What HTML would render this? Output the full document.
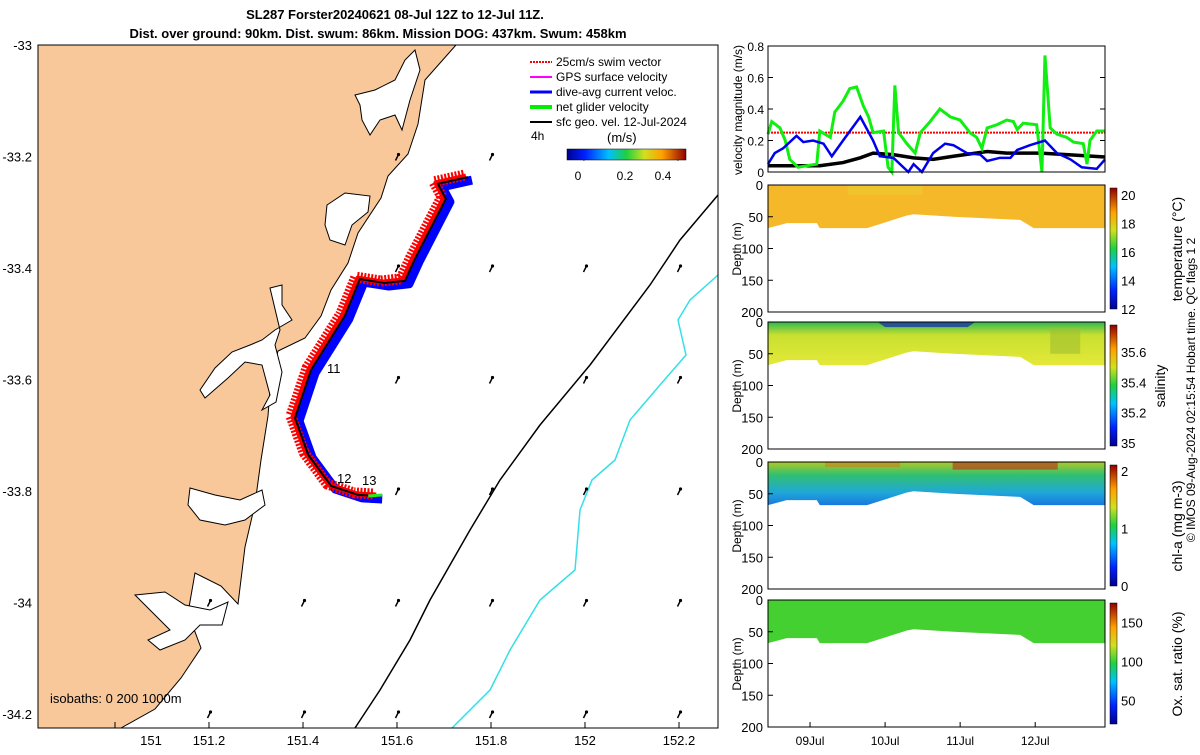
<!DOCTYPE html>
<html><head><meta charset="utf-8"><style>
body{margin:0;background:#fff;}
svg{font-family:"Liberation Sans",sans-serif;}
</style></head><body>
<svg id="fig" width="1200" height="750" viewBox="0 0 1200 750" xmlns="http://www.w3.org/2000/svg">
<defs>
<linearGradient id="jet" x1="0" y1="1" x2="0" y2="0">
<stop offset="0" stop-color="#00008f"/><stop offset="0.15" stop-color="#0020ff"/><stop offset="0.35" stop-color="#00c0ff"/><stop offset="0.5" stop-color="#20d040"/><stop offset="0.65" stop-color="#d0e020"/><stop offset="0.8" stop-color="#ffa000"/><stop offset="1" stop-color="#8f0000"/></linearGradient>
<linearGradient id="jeth" x1="0" y1="0" x2="1" y2="0">
<stop offset="0" stop-color="#00008f"/><stop offset="0.15" stop-color="#0020ff"/><stop offset="0.35" stop-color="#00c0ff"/><stop offset="0.5" stop-color="#20d040"/><stop offset="0.65" stop-color="#d0e020"/><stop offset="0.8" stop-color="#ffa000"/><stop offset="1" stop-color="#8f0000"/></linearGradient>
<linearGradient id="salg" x1="0" y1="0" x2="0" y2="1"><stop offset="0" stop-color="#30b850"/><stop offset="0.3" stop-color="#c8e030"/><stop offset="1" stop-color="#e4e838"/></linearGradient>
<linearGradient id="chlg" x1="0" y1="0" x2="0" y2="1"><stop offset="0" stop-color="#b0c828"/><stop offset="0.3" stop-color="#30c070"/><stop offset="0.7" stop-color="#20a8d8"/><stop offset="1" stop-color="#1878e0"/></linearGradient>
</defs>
<text x="395" y="19" font-size="13" font-weight="bold" text-anchor="middle">SL287 Forster20240621 08-Jul 12Z to 12-Jul 11Z.</text>
<text x="378" y="38" font-size="13" font-weight="bold" text-anchor="middle">Dist. over ground: 90km. Dist. swum: 86km. Mission DOG: 437km. Swum: 458km</text>

<g>
<rect x="38" y="45" width="680" height="683" fill="#fff"/>
<path fill="#f9c89a" stroke="#000" stroke-width="1" d="M38,45 L456,45 L425,80 L418,124 L408,154 L388,176 L381,198 L358,233 L348,263 L331,290 L321,316 L305,338 L278,351 L271,377 L268,416 L261,460 L255,504 L245,547 L238,604 L221,586 L195,573 L188,613 L201,648 L181,678 L155,709 L121,728 L38,728 Z"/>
<g fill="#fff" stroke="#000" stroke-width="1">
<path d="M327,205 L345,193 L370,196 L368,212 L352,225 L345,245 L330,240 L325,225 Z"/>
<path d="M355,95 L375,90 L395,80 L405,60 L415,50 L420,70 L410,100 L402,130 L395,115 L380,120 L370,135 L362,120 L360,105 Z"/>
<path d="M270,288 L282,285 L282,305 L292,320 L275,330 L262,340 L250,345 L232,352 L215,368 L200,390 L205,398 L228,378 L245,362 L262,365 L270,395 L262,410 L276,402 L282,372 L275,345 L280,330 Z"/>
<path d="M190,488 L215,495 L240,500 L262,490 L265,505 L245,520 L225,525 L200,520 L188,505 Z"/>
<path d="M135,595 L165,592 L185,605 L210,610 L228,602 L222,625 L200,625 L185,640 L160,650 L148,640 L170,630 L150,610 Z"/>
</g>
<polyline fill="none" stroke="#000" stroke-width="1.5" points="718,195 680,240 650,285 590,365 540,425 500,480 470,530 430,600 410,640 380,690 355,728"/>
<polyline fill="none" stroke="#33e0e8" stroke-width="1.5" points="718,275 690,300 678,320 686,355 660,385 630,420 615,460 592,480 580,510 575,570 540,600 510,650 490,690 452,728"/>
<g id="track"></g>
<g id="arrows"></g>
<text x="327" y="373" font-size="13">11</text>
<text x="337" y="483" font-size="13">12</text>
<text x="362" y="485" font-size="13">13</text>
<rect x="38" y="45" width="680" height="683" fill="none" stroke="#000"/>
<g id="mapticks" font-size="13"></g>
<text x="50" y="703" font-size="13">isobaths: 0   200  1000m</text>
<g font-size="12">
<line x1="530" y1="62" x2="552" y2="62" stroke="#f00" stroke-width="2" stroke-dasharray="2 1"/><text x="556" y="66">25cm/s swim vector</text>
<line x1="530" y1="77" x2="552" y2="77" stroke="#f0f" stroke-width="2"/><text x="556" y="81">GPS surface velocity</text>
<line x1="530" y1="92" x2="552" y2="92" stroke="#00f" stroke-width="3"/><text x="556" y="96">dive-avg current veloc.</text>
<line x1="530" y1="107" x2="552" y2="107" stroke="#0e0" stroke-width="4"/><text x="556" y="111">net glider velocity</text>
<line x1="530" y1="122" x2="552" y2="122" stroke="#000" stroke-width="2"/><text x="556" y="126">sfc geo. vel. 12-Jul-2024</text>
<text x="531" y="140">4h</text><text x="607" y="142" font-size="13">(m/s)</text>
<rect x="567" y="149" width="119" height="11" fill="url(#jeth)" stroke="#000" stroke-width="0.5"/>
<text x="578" y="180" text-anchor="middle">0</text><text x="625" y="180" text-anchor="middle">0.2</text><text x="663" y="180" text-anchor="middle">0.4</text>
</g>
</g>

<g id="right"></g>
<text transform="translate(1195,390) rotate(-90)" font-size="12" text-anchor="middle">© IMOS 09-Aug-2024 02:15:54 Hobart time. QC flags 1  2</text>

<script>
const NS="http://www.w3.org/2000/svg";
function mk(t,a,p){const e=document.createElementNS(NS,t);for(const k in a)e.setAttribute(k,a[k]);(p||document.getElementById('fig')).appendChild(e);return e;}
// ---- data ----
const greenT=[8.44,8.49,8.6,8.67,8.73,8.84,8.96,9.09,9.13,9.27,9.33,9.44,9.53,9.62,9.71,9.78,9.84,9.98,10.04,10.09,10.13,10.18,10.29,10.40,10.47,10.6,10.73,10.87,11.0,11.13,11.22,11.29,11.36,11.49,11.62,11.71,11.76,11.84,12.02,12.09,12.13,12.2,12.29,12.42,12.51,12.64,12.69,12.73,12.82,12.93];
const greenV=[0.24,0.32,0.28,0.2,0.08,0.03,0.04,0.05,0.26,0.22,0.38,0.45,0.53,0.54,0.42,0.35,0.25,0.26,0.03,0.0,0.55,0.25,0.18,0.12,0.25,0.32,0.4,0.35,0.33,0.25,0.22,0.15,0.28,0.3,0.33,0.32,0.27,0.31,0.3,0.0,0.74,0.28,0.24,0.22,0.19,0.18,0.05,0.2,0.26,0.26];
const blueT=[8.44,8.53,8.64,8.82,8.91,9.04,9.18,9.29,9.44,9.67,9.84,9.93,10.11,10.31,10.38,10.49,10.64,10.8,10.91,11.09,11.27,11.36,11.53,11.67,11.76,11.93,12.13,12.29,12.47,12.62,12.82,12.93];
const blueV=[0.05,0.12,0.15,0.23,0.19,0.2,0.18,0.1,0.2,0.35,0.2,0.1,0.09,0.0,0.05,0.0,0.12,0.18,0.17,0.12,0.11,0.07,0.09,0.09,0.14,0.17,0.2,0.12,0.08,0.03,0.02,0.08];
const blackT=[8.44,9.13,9.44,9.67,9.84,10.11,10.38,10.64,10.91,11.36,11.62,11.8,12.07,12.42,12.93];
const blackV=[0.04,0.04,0.06,0.09,0.12,0.11,0.09,0.08,0.1,0.13,0.12,0.12,0.12,0.11,0.095];
const swimV=0.25;
const bottomT=[8.44,8.69,9.09,9.13,9.76,10.29,10.38,10.91,11.8,11.98,12.93];
const bottomD=[68,60,60,68,68,48,46,50,55,68,68];
const dayTicks=[9,10,11,12];
const dayLabels=["09Jul","10Jul","11Jul","12Jul"];
const trackLon=[151.751,151.687,151.704,151.638,151.617,151.574,151.521,151.489,151.417,151.383,151.411,151.460,151.517,151.560];
const trackLat=[-33.237,-33.249,-33.276,-33.384,-33.423,-33.427,-33.420,-33.486,-33.583,-33.669,-33.735,-33.791,-33.807,-33.809];
const lonTicks=[151,151.2,151.4,151.6,151.8,152,152.2];
const latTicks=[-33,-33.2,-33.4,-33.6,-33.8,-34,-34.2];
// ---- map axes ----
const lx=l=>115+(l-151)*470, ly=a=>45+(-33-a)*557.5;
const mt=document.getElementById('mapticks');
lonTicks.forEach(l=>{const t=mk('text',{x:lx(l)+(l===151?36:0),y:745,'text-anchor':'middle'},mt);t.textContent=String(l);


mk('line',{x1:lx(l),y1:728,x2:lx(l),y2:722,stroke:'#000'},mt);});
latTicks.forEach(a=>{const t=mk('text',{x:32,y:ly(a)+5,'text-anchor':'end'},mt);t.textContent=String(a);

});
const tr=document.getElementById('track');
const pts=trackLon.map((l,i)=>[lx(l),ly(trackLat[i])]);
const ps=(ox,oy)=>pts.map(p=>(p[0]+ox)+','+(p[1]+oy)).join(' ');
mk('polyline',{points:ps(4,3),fill:'none',stroke:'#00f','stroke-width':9,'stroke-linejoin':'round'},tr);
mk('polyline',{points:ps(-4,-2),fill:'none',stroke:'#f00','stroke-width':11,'stroke-linejoin':'round','stroke-dasharray':'2 1.5'},tr);
mk('polyline',{points:ps(-2,-1),fill:'none',stroke:'#f00','stroke-width':5,'stroke-linejoin':'round'},tr);
mk('polyline',{points:ps(0,0),fill:'none',stroke:'#000','stroke-width':2},tr);
const last=pts[pts.length-1];
mk('line',{x1:last[0]-10,y1:last[1],x2:last[0]+4,y2:last[1]-1,stroke:'#2e2','stroke-width':3},tr);
const ar=document.getElementById('arrows');
[151.2,151.4,151.6,151.8,152,152.2].forEach(l=>[-33.2,-33.4,-33.6,-33.8,-34,-34.2].forEach(a=>{
 if(l<=151.4&&a>-33.9)return;
 const x=lx(l),y=ly(a);const e=mk('line',{x1:x-1.5,y1:y+4,x2:x+1.5,y2:y-2,stroke:'#000','stroke-width':1.5},ar);
 
 
 mk('circle',{cx:x+1.5,cy:y-2,r:1.6,fill:'#000'},ar);}));
// ---- right panels ----
const R=document.getElementById('right');
const X0=768,X1=1105,tx=d=>X0+(d-8.44)/(12.93-8.44)*(X1-X0);
const vy=v=>172-v/0.8*126;
const vp=mk('g',{},R);
mk('line',{x1:X0,y1:vy(swimV),x2:X1,y2:vy(swimV),stroke:'#f00','stroke-width':2,'stroke-dasharray':'2 1'},vp);
const line=(T,V,c,w,nm)=>{const e=mk('polyline',{points:T.map((t,i)=>tx(t)+','+vy(V[i])).join(' '),fill:'none',stroke:c,'stroke-width':w},vp);
};
line(blackT,blackV,'#000',3.5,'sfc-geo-velocity-line');
line(greenT,greenV,'#1e1',3,'net-glider-velocity-line');
line(blueT,blueV,'#00e',2.5,'dive-avg-current-line');
mk('rect',{x:X0,y:46,width:X1-X0,height:126,fill:'none',stroke:'#000'},vp);
[0,0.2,0.4,0.6,0.8].forEach(v=>{const t=mk('text',{x:X0-4,y:vy(v)+5,'text-anchor':'end','font-size':12},vp);t.textContent=String(v);
mk('line',{x1:X0,y1:vy(v),x2:X0+5,y2:vy(v),stroke:'#000'},vp);mk('line',{x1:X1,y1:vy(v),x2:X1-5,y2:vy(v),stroke:'#000'},vp);});
const vl=mk('text',{transform:'translate(742,110) rotate(-90)','text-anchor':'middle','font-size':12},vp);vl.textContent='velocity magnitude (m/s)';
const panels=[
 {y0:185,fill:'#f4b828',label:'temperature (°C)',ticks:[20,18,16,14,12],tmin:12,tmax:20.5,name:'temperature-panel'},
 {y0:322,fill:'url(#salg)',label:'salinity',ticks:[35.6,35.4,35.2,35],tmin:34.98,tmax:35.78,name:'salinity-panel'},
 {y0:462,fill:'url(#chlg)',label:'chl-a (mg m-3)',ticks:[2,1,0],tmin:0,tmax:2.1,name:'chla-panel'},
 {y0:600,fill:'#44d030',label:'Ox. sat. ratio (%)',ticks:[150,100,50],tmin:20,tmax:175,name:'oxygen-panel'}];
panels.forEach((p,pi)=>{
 const g=mk('g',{},R);
 const dy=d=>p.y0+d/200*127;
 let d='M'+tx(bottomT[0])+','+dy(0);
 bottomT.forEach((t,i)=>d+=' L'+tx(t)+','+dy(bottomD[i]));
 d+=' L'+tx(bottomT[bottomT.length-1])+','+dy(0)+' Z';
 mk('path',{d:d,fill:p.fill},g);
 if(pi===1){mk('path',{d:'M'+tx(9.9)+','+dy(0)+' L'+tx(11.2)+','+dy(0)+' L'+tx(11.1)+','+dy(8)+' L'+tx(10.0)+','+dy(8)+'Z',fill:'#2040a0',opacity:0.85},g);
  mk('rect',{x:tx(12.2),y:dy(10),width:tx(12.6)-tx(12.2),height:dy(50)-dy(10),fill:'#a0c030',opacity:0.6},g);}
 if(pi===2){mk('rect',{x:tx(10.9),y:dy(0),width:tx(12.3)-tx(10.9),height:dy(12)-dy(0),fill:'#c02010',opacity:0.55},g);
  mk('rect',{x:tx(9.2),y:dy(0),width:tx(10.2)-tx(9.2),height:dy(8)-dy(0),fill:'#e06010',opacity:0.4},g);}
 if(pi===0){mk('rect',{x:tx(9.5),y:dy(0),width:tx(10.5)-tx(9.5),height:dy(15)-dy(0),fill:'#ecd030',opacity:0.5},g);}
 mk('rect',{x:X0,y:p.y0,width:X1-X0,height:127,fill:'none',stroke:'#000'},g);
 [0,50,100,150,200].forEach(v=>{const t=mk('text',{x:X0-5,y:dy(v)+5,'text-anchor':'end','font-size':13},g);t.textContent=String(v);
  mk('line',{x1:X0,y1:dy(v),x2:X0+5,y2:dy(v),stroke:'#000'},g);});
 const yl=mk('text',{transform:'translate(741,'+(p.y0+64)+') rotate(-90)','text-anchor':'middle','font-size':12},g);yl.textContent='Depth (m)';
 mk('rect',{x:1110,y:p.y0+3,width:7,height:121,fill:'url(#jet)',stroke:'#000','stroke-width':0.5},g);
 const cy=v=>p.y0+124-(v-p.tmin)/(p.tmax-p.tmin)*121;
 p.ticks.forEach(v=>{const t=mk('text',{x:1121,y:cy(v)+5,'font-size':13},g);t.textContent=String(v);});
 const cl=mk('text',{transform:'translate('+(pi===1?1165:1182)+','+(p.y0+64)+') rotate(-90)','text-anchor':'middle','font-size':14},g);cl.textContent=p.label;
});
const xg=mk('g',{},R);
dayTicks.forEach((d,i)=>{const t=mk('text',{x:tx(d),y:745,'text-anchor':'middle','font-size':12},xg);t.textContent=dayLabels[i];
 mk('line',{x1:tx(d),y1:727,x2:tx(d),y2:722,stroke:'#000'},xg);});
</script>
</svg>
</body></html>
